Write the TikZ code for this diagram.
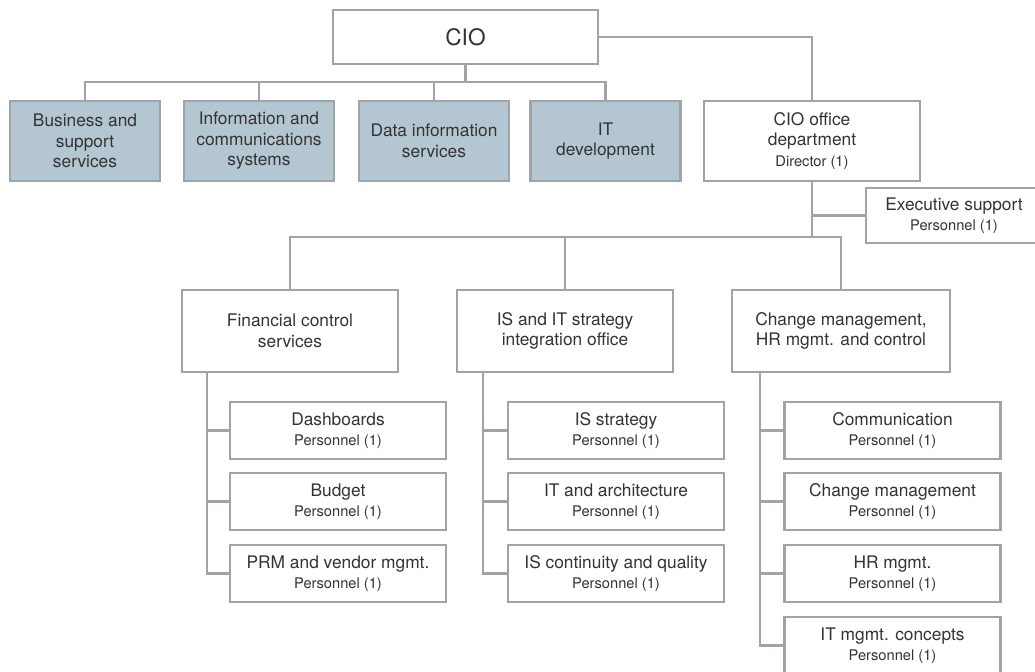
\documentclass[tikz,border=0pt]{standalone}
\usepackage{fontspec}
\setmainfont{TeX Gyre Heros}
\definecolor{edge}{HTML}{9DA4AA}
\definecolor{unitfill}{HTML}{B5C6D3}
\definecolor{ink}{HTML}{333333}
\newcommand\unittext{\fontsize{13}{15.4}\selectfont}
\newcommand\stafftext{\fontsize{11}{13.5}\selectfont}
\newcommand\ciotext{\fontsize{17}{20}\selectfont}
\begin{document}
\begin{tikzpicture}[x=0.75pt,y=-0.75pt,
  box/.style={draw=edge, line width=1.8pt, fill=white, text=ink, align=center,
    inner sep=0pt, font=\unittext},
  unit/.style={box, fill=unitfill, minimum width=150*0.75pt, minimum height=80*0.75pt},
  dept/.style={box, minimum width=216*0.75pt, minimum height=82*0.75pt},
  staff/.style={box, minimum width=216*0.75pt, minimum height=57*0.75pt},
  wire/.style={draw=edge, line width=1.8pt}]
\useasboundingbox (0,0) rectangle (1035,671);

% top level
\node[box, font=\ciotext, minimum width=265*0.75pt, minimum height=54*0.75pt] (cio) at (465.5,37) {CIO};
\node[unit] (b1) at (85,141) {Business and\\support\\services};
\node[unit] (b2) at (259,141) {Information and\\communications\\systems};
\node[unit] (b3) at (434,141) {Data information\\services};
\node[unit] (b4) at (605.5,141) {IT\\development};
\node[box, minimum width=216*0.75pt, minimum height=80*0.75pt] (office) at (812,141)
  {CIO office\\department\\{\stafftext Director (1)}};
\node[box, minimum width=176*0.75pt, minimum height=55*0.75pt] (exec) at (954,215.5)
  {Executive support\\{\stafftext Personnel (1)}};

% departments
\node[dept] (fin) at (290,331) {Financial control\\services};
\node[dept] (isit) at (565,331) {IS and IT strategy\\integration office};
\node[dept, minimum width=218*0.75pt] (chg) at (841,331) {Change management,\\HR mgmt. and control};

% staff positions
\node[staff] (f1) at (338,430.5) {Dashboards\\{\stafftext Personnel (1)}};
\node[staff] (f2) at (338,501.5) {Budget\\{\stafftext Personnel (1)}};
\node[staff] (f3) at (338,573.5) {PRM and vendor mgmt.\\{\stafftext Personnel (1)}};
\node[staff] (i1) at (616,430.5) {IS strategy\\{\stafftext Personnel (1)}};
\node[staff] (i2) at (616,501.5) {IT and architecture\\{\stafftext Personnel (1)}};
\node[staff] (i3) at (616,573.5) {IS continuity and quality\\{\stafftext Personnel (1)}};
\node[staff] (c1) at (892.5,430.5) {Communication\\{\stafftext Personnel (1)}};
\node[staff] (c2) at (892.5,501.5) {Change management\\{\stafftext Personnel (1)}};
\node[staff] (c3) at (892.5,573.5) {HR mgmt.\\{\stafftext Personnel (1)}};
\node[staff] (c4) at (892.5,645.5) {IT mgmt. concepts\\{\stafftext Personnel (1)}};

% connector levels
\coordinate (busA) at (0,82);
\coordinate (busB) at (0,237);
\coordinate (fs) at (207,0);
\coordinate (is) at (483,0);
\coordinate (cs) at (760,0);

% CIO to first row
\draw[wire] (b1.north) -- (b1.north |- busA) -- (b4.north |- busA) -- (b4.north);
\draw[wire] (b2.north) -- (b2.north |- busA);
\draw[wire] (b3.north) -- (b3.north |- busA);
\draw[wire] (cio.south) -- (cio.south |- busA);
\draw[wire] (cio.east) -| (office.north);

% CIO office to departments
\draw[wire] (office.south) -- (office.south |- busB);
\draw[wire] (exec.west) -- (exec.west -| office.south);
\draw[wire] (fin.north) -- (fin.north |- busB) -- (chg.north |- busB) -- (chg.north);
\draw[wire] (isit.north) -- (isit.north |- busB);

% departments to staff
\draw[wire] (fin.south -| fs) |- (f3.west);
\draw[wire] (f1.west) -- (f1.west -| fs);
\draw[wire] (f2.west) -- (f2.west -| fs);
\draw[wire] (isit.south -| is) |- (i3.west);
\draw[wire] (i1.west) -- (i1.west -| is);
\draw[wire] (i2.west) -- (i2.west -| is);
\draw[wire] (chg.south -| cs) |- (c4.west);
\draw[wire] (c1.west) -- (c1.west -| cs);
\draw[wire] (c2.west) -- (c2.west -| cs);
\draw[wire] (c3.west) -- (c3.west -| cs);
\end{tikzpicture}
\end{document}
